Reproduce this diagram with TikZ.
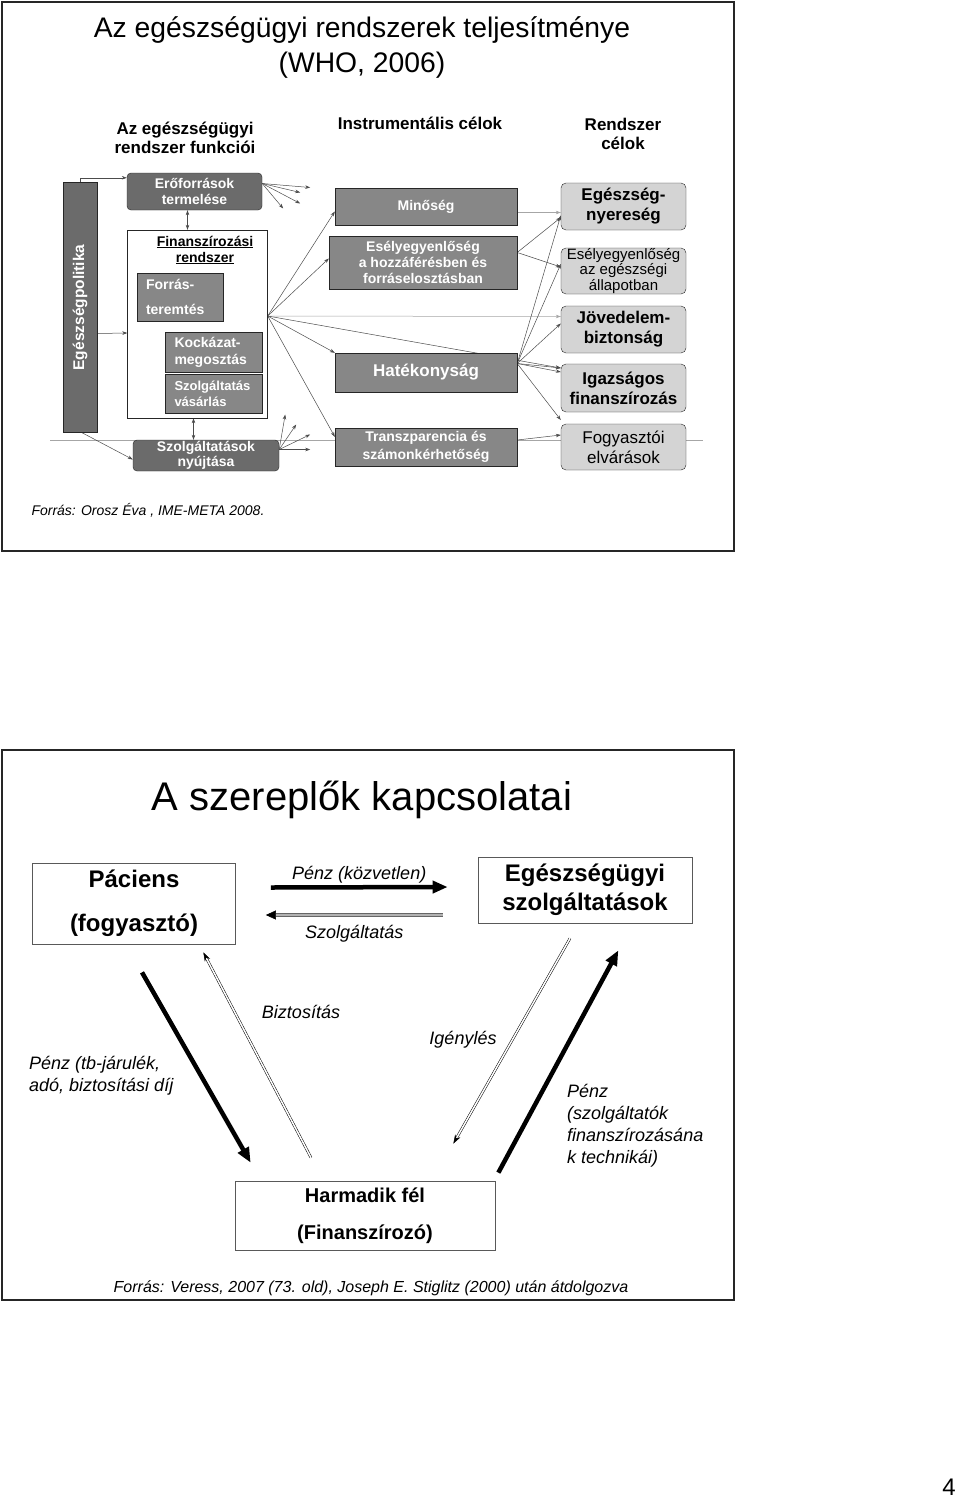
\documentclass[tikz,border=0pt]{standalone}
\usepackage{fontspec}
\setmainfont{Liberation Sans}
\usetikzlibrary{arrows.meta,positioning,calc,backgrounds}
\newcommand{\fsz}[2]{\fontsize{#1}{#2}\selectfont}

\begin{document}
\begin{tikzpicture}[x=1pt,y=-1pt,>=Stealth,
  frame/.style={draw=black!85,line width=1.8pt},
  hdr/.style={font=\fsz{17}{19}\bfseries,align=center},
  fnbox/.style={draw=black!85,fill=black!58,rounded corners=4pt,text=white,align=center,inner sep=0pt,font=\fsz{14}{16}\bfseries},
  subbox/.style={draw=black!85,fill=black!47,text=white,align=left,inner sep=0pt,font=\fsz{14}{17}\bfseries},
  insbox/.style={draw=black!85,fill=black!47,text=white,align=center,inner sep=0pt,minimum width=182,font=\fsz{14}{16}\bfseries},
  goalbox/.style={draw=black!85,fill=black!17,rounded corners=5pt,align=center,inner sep=0pt,minimum width=125,font=\fsz{17}{20}\bfseries},
  link/.style={-{Stealth[length=5pt,width=3.5pt]},draw=black!70,line width=0.5pt},
  dlink/.style={link,{Stealth[length=5pt,width=3.5pt]}-{Stealth[length=5pt,width=3.5pt]}},
  glink/.style={link,draw=black!35},
  actor/.style={draw=black!65,line width=0.7pt,align=center,inner sep=2pt,font=\fsz{24}{44}\bfseries},
  money/.style={line width=4.5pt,-{Triangle[length=15pt,width=12pt]}},
  flow/.style={draw=black,double=white,line width=0.5pt,double distance=1.5pt,-{Stealth[length=9pt,width=6pt]}},
  svc/.style={draw=black!60,double=black!30,line width=0.6pt,double distance=2.4pt,-{Triangle[length=10pt,width=9pt,black]}},
  lbl/.style={font=\fsz{18}{22}\itshape,align=left,inner sep=2pt}]
\useasboundingbox (0,0) rectangle (960,1501);

% slide 1: WHO
\draw[frame] (2,2) rectangle (734,551);
\node[font=\fsz{28.3}{35},align=center] (title1) at (362,48) {Az egészségügyi rendszerek teljesítménye\\(WHO, 2006)};
\node[hdr] (hfun) at (185,138) {Az egészségügyi\\rendszer funkciói};
\node[hdr] (hins) at (420,123) {Instrumentális célok};
\node[hdr] (hgoal) at (623,134) {Rendszer\\célok};

% functions
\node[fnbox,rounded corners=0pt,minimum width=34,minimum height=250] (pol) at (80,307.5) {};
\node[rotate=90,text=white,font=\fsz{15.5}{17}\bfseries] (poltxt) at (pol.center) {Egészségpolitika};
\node[fnbox,minimum width=135,minimum height=37] (ero) at (194.5,191.5) {Erőforrások\\termelése};
\node[draw=black!85,fill=white,minimum width=140,minimum height=188,inner sep=0pt] (fin) at (197.5,324) {};
\node[font=\fsz{14}{16}\bfseries,align=center] (finhdr) at (205,250) {\underline{Finanszírozási}\\\underline{rendszer}};
\node[subbox,minimum width=86,minimum height=48,text width=68] (forras) at (180,297) {Forrás-\\[8pt]teremtés};
\node[subbox,minimum width=97,minimum height=40,text width=78] (kock) at (213.5,352) {Kockázat-\\megosztás};
\node[subbox,minimum width=97,minimum height=39,text width=78,font=\fsz{13}{16}\bfseries] (szvas) at (213.5,393.5) {Szolgáltatás\\vásárlás};
\node[fnbox,minimum width=146,minimum height=31,font=\fsz{14}{15.5}\bfseries] (nyujt) at (206,455.5) {Szolgáltatások\\nyújtása};

% instrumental goals
\node[insbox,minimum height=37] (min) at (426,206.5) {Minőség};
\node[insbox,minimum width=188,minimum height=53] (esely) at (423,262.5) {Esélyegyenlőség\\a hozzáférésben és\\forráselosztásban};
\node[insbox,minimum height=39,font=\fsz{17}{19}\bfseries] (hat) at (426,372.5) {Hatékonyság};
\node[insbox,minimum height=38,font=\fsz{14}{18}\bfseries] (transz) at (426,447) {Transzparencia és\\számonkérhetőség};

% system goals
\node[goalbox,minimum height=47] (eg) at (623.5,206.5) {Egészség-\\nyereség};
\node[goalbox,minimum height=46,font=\fsz{15}{15.5}] (esely2) at (623.5,271) {Esélyegyenlőség\\az egészségi\\állapotban};
\node[goalbox,minimum height=47] (jov) at (623.5,329.5) {Jövedelem-\\biztonság};
\node[goalbox,minimum height=48] (igaz) at (623.5,388) {Igazságos\\finanszírozás};
\node[goalbox,minimum height=46,font=\fsz{17}{20}] (fogy) at (623.5,447) {Fogyasztói\\elvárások};

\node[anchor=west,font=\fsz{14}{16}\itshape] (src1) at (28,510) {Forrás: Orosz Éva , IME-META 2008.};

\begin{scope}[on background layer]
\fill[white] (0,0) rectangle (960,1501);
\coordinate (rulel) at (50,440);
\coordinate (ruler) at (703,440);
\draw[black!35,line width=0.6pt] (rulel) -- (ruler);
\draw[link] (pol.north) |- ($(ero.north west)+(0,5)$);
\draw[link] ($(pol.east)+(0,26)$) -- ($(fin.west)+(0,9)$);
\draw[link] ($(pol.south)+(2,0)$) -- ($(nyujt.west)+(0,4)$);
\draw[dlink] ($(ero.south)+(-7,0)$) -- ($(ero.south |- fin.north)+(-7,0)$);
\draw[dlink] ($(fin.south)+(-4,0)$) -- ($(fin.south |- nyujt.north)+(-4,0)$);
\coordinate (fork) at (128,360);
\draw[link] ($(forras.west)+(0,-5)$) .. controls +(-14,12) and +(-25,2) .. ($(kock.north west)+(0,5)$);
\draw[link] (fork) .. controls +(10,-12) and +(-18,3) .. ($(kock.west)+(0,-13)$);
\draw[link] (fork) .. controls +(8,14) and +(-20,0) .. ($(szvas.west)+(0,-8)$);
\foreach \dx/\dy in {48/4,38/9,38/20,21/25}
  \draw[link] ($(ero.east)+(0,-8)$) -- ++(\dx,\dy);
\foreach \dx/\dy in {6/-35,17/-25,31/-15,31/0}
  \draw[link] ($(nyujt.east)+(0,-6)$) -- ++(\dx,\dy);
\coordinate (finout) at ($(fin.east)+(0,-8)$);
\draw[link] (finout) -- ($(min.west)+(0,5)$);
\draw[link] (finout) -- ($(esely.west)+(0,-4)$);
\draw[glink] (finout) -- ($(jov.west)+(0,-13)$);
\draw[link] (finout) -- ($(igaz.west)+(0,-20)$);
\draw[link] (finout) -- (hat.north west);
\draw[link] (finout) -- ($(transz.north west)+(0,9)$);
\draw[glink] ($(min.east)+(0,6)$) -- ($(eg.west)+(0,6)$);
\draw[link] ($(esely.east)+(0,-10)$) -- ($(eg.west)+(0,11)$);
\draw[link] ($(esely.east)+(0,-10)$) -- ($(esely2.west)+(0,-4)$);
\coordinate (hatout) at ($(hat.east)+(0,-9)$);
\foreach \tgt/\dy in {eg/9,esely2/-7,jov/-6,igaz/-20,igaz/-16,fogy/-27}
  \draw[link] (hatout) -- ($(\tgt.west)+(0,\dy)$);
\draw[link] ($(transz.east)+(0,-7)$) -- ($(fogy.west)+(0,-12)$);
\end{scope}

% slide 2: actors
\draw[frame] (2,750) rectangle (734,1300);
\node[font=\fsz{40}{44}] (title2) at (362,800) {A szereplők kapcsolatai};
\node[actor,minimum width=203,minimum height=81] (pac) at (134,903.5) {Páciens\\(fogyasztó)};
\node[actor,minimum width=214,minimum height=66,font=\fsz{24}{29}\bfseries] (esz) at (585,890) {Egészségügyi\\szolgáltatások};
\node[actor,minimum width=260,minimum height=69,font=\fsz{20}{37}\bfseries] (harm) at (365,1215.5) {Harmadik fél\\(Finanszírozó)};

\draw[money] ($(pac.east)+(35,-16)$) -- node[above=0pt,lbl] (lpd) {Pénz (közvetlen)} ($(esz.west)+(-30,-3)$);
\draw[svc] ($(esz.west)+(-35,25)$) -- node[below=8pt,lbl] (lsz) {Szolgáltatás} ($(pac.east)+(30,11.5)$);
\draw[money] ($(pac.south)+(8,28)$) -- ($(harm.north west)+(16,-18)$);
\draw[flow] ($(harm.north)+(-54,-23)$) -- ($(pac.south east)+(-32.5,8)$);
\draw[flow] ($(esz.south)+(-15,15)$) -- ($(harm.north east)+(-42,-37)$);
\draw[money] ($(harm.north east)+(3,-8)$) -- ($(esz.south east)+(-74,27)$);

\node[lbl] (lbiz) at (301,1012) {Biztosítás};
\node[lbl] (ligeny) at (463,1040) {Igénylés};
\node[lbl,anchor=west] (lpt) at (27,1076) {Pénz (tb-járulék,\\adó, biztosítási díj};
\node[lbl,anchor=west] (lpf) at (565,1125.5) {Pénz\\(szolgáltatók\\finanszírozásána\\k technikái)};
\node[font=\fsz{16}{18}\itshape] (src2) at (371,1288) {Forrás: Veress, 2007 (73. old), Joseph E. Stiglitz (2000) után átdolgozva};
\node[font=\fsz{24}{26}] (pnum) at (949,1487) {4};
\end{tikzpicture}
\end{document}
